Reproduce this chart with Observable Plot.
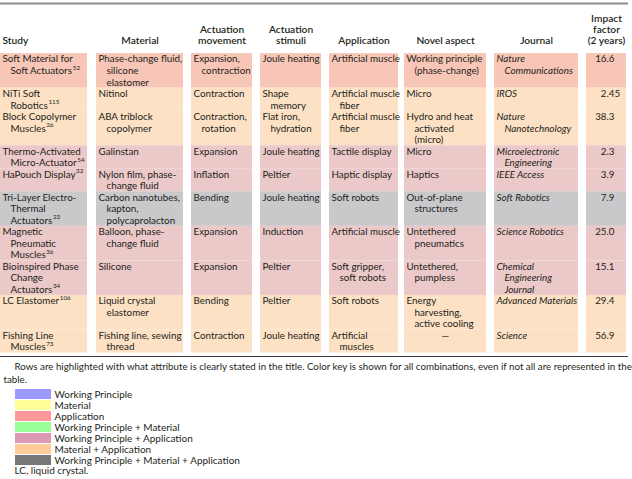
<!DOCTYPE html>
<html><head><meta charset="utf-8">
<script src="https://cdn.jsdelivr.net/npm/d3@7"></script>
<script src="https://cdn.jsdelivr.net/npm/@observablehq/plot@0.6"></script>
<style>
html,body{margin:0;padding:0;background:#fff;}
#chart svg{display:block;}
</style></head><body><div id="chart"></div>
<script>
// ---------- data ----------
const headers = ["Study", "Material", "Actuation\nmovement", "Actuation\nstimuli", "Application", "Novel aspect", "Journal", "Impact\nfactor\n(2 years)"];
const studies = [
  "Soft Material for\nSoft Actuators", "NiTi Soft\nRobotics", "Block Copolymer\nMuscles",
  "Thermo-Activated\nMicro-Actuator", "HaPouch Display", "Tri-Layer Electro-\nThermal\nActuators",
  "Magnetic\nPneumatic\nMuscles", "Bioinspired Phase\nChange\nActuators", "LC Elastomer", "Fishing Line\nMuscles"
];
const refs = ["52", "115", "26", "54", "32", "23", "36", "34", "106", "73"];
const materials = [
  "Phase-change fluid,\nsilicone\nelastomer", "Nitinol", "ABA triblock\ncopolymer", "Galinstan",
  "Nylon film, phase-\nchange fluid", "Carbon nanotubes,\nkapton,\npolycaprolacton", "Balloon, phase-\nchange fluid",
  "Silicone", "Liquid crystal\nelastomer", "Fishing line, sewing\nthread"
];
const movements = [
  "Expansion,\ncontraction", "Contraction", "Contraction,\nrotation", "Expansion", "Inflation",
  "Bending", "Expansion", "Expansion", "Bending", "Contraction"
];
const stimuli = [
  "Joule heating", "Shape\nmemory", "Flat iron,\nhydration", "Joule heating", "Peltier",
  "Joule heating", "Induction", "Peltier", "Peltier", "Joule heating"
];
const applications = [
  "Artificial muscle", "Artificial muscle\nfiber", "Artificial muscle\nfiber", "Tactile display", "Haptic display",
  "Soft robots", "Artificial muscle", "Soft gripper,\nsoft robots", "Soft robots", "Artificial\nmuscles"
];
const novelAspects = [
  "Working principle\n(phase-change)", "Micro", "Hydro and heat\nactivated\n(micro)", "Micro", "Haptics",
  "Out-of-plane\nstructures", "Untethered\npneumatics", "Untethered,\npumpless", "Energy\nharvesting,\nactive cooling", "—"
];
const journals = [
  "Nature\nCommunications", "IROS", "Nature\nNanotechnology", "Microelectronic\nEngineering", "IEEE Access",
  "Soft Robotics", "Science Robotics", "Chemical\nEngineering\nJournal", "Advanced Materials", "Science"
];
const impactFactors = ["16.6", "2.45", "38.3", "2.3", "3.9", "7.9", "25.0", "15.1", "29.4", "56.9"];
const rowKeys = [
  "Application", "Material + Application", "Material + Application",
  "Working Principle + Application", "Working Principle + Application",
  "Working Principle + Material + Application",
  "Working Principle + Application", "Working Principle + Application",
  "Material + Application", "Material + Application"
];
const legendKeys = [
  "Working Principle", "Material", "Application", "Working Principle + Material",
  "Working Principle + Application", "Material + Application", "Working Principle + Material + Application"
];
const captionLines = [
  "Rows are highlighted with what attribute is clearly stated in the title. Color key is shown for all combinations, even if not all are represented in the",
  "table."
];
const footnote = "LC, liquid crystal.";

// ---------- styles / layout ----------
const legendColors = ["#9999ff", "#ffff99", "#ff9999", "#99ff99", "#dd99b3", "#ffcc99", "#777777"];
const tintColors   = ["#ccccff", "#ffffcc", "#f8c6b6", "#ccffcc", "#ecc9c9", "#fde1c5", "#c9c9cb"];
const colEdges = [[0, 87], [96, 183], [191, 252], [260, 321], [329, 398], [404, 486], [494, 578], [586, 626]];
const FONT = "Lato, 'DejaVu Sans', sans-serif";
const FS = 9.8, HFS = 10.2, FFS = 10, CFS = 9.75, PAD = 2, INDENT = 8, DEC_X = 606;
const INK = "#231f20";

const ctx = document.createElement("canvas").getContext("2d");
ctx.font = `${FS}px Lato`;
const measure = (s) => ctx.measureText(s).width;

const textColumns = [studies, materials, movements, stimuli, applications, novelAspects, journals];
const rowLines = studies.map((_, r) => Math.max(...textColumns.map(col => col[r].split("\n").length)));
const rowTop = [];
rowLines.reduce((acc, n, r) => (rowTop[r] = acc, acc + n), 0);
const totalLines = d3.sum(rowLines);
const yTop = -4.35, yBottom = totalLines + 0.3;

const cells = [];
rowKeys.forEach((key, r) => colEdges.forEach(([x1, x2]) =>
  cells.push({x1, x2, y1: rowTop[r], y2: rowTop[r] + rowLines[r], key})));

const bodyLines = [];
textColumns.forEach((col, c) => col.forEach((txt, r) => txt.split("\n").forEach((t, i) => {
  const [l, rg] = colEdges[c];
  const centered = t === "—";
  bodyLines.push({c, r, i, text: t, centered,
    x: centered ? (l + rg) / 2 : l + PAD + (i ? INDENT : 0),
    y: rowTop[r] + i + 0.5});
})));

const refMarks = studies.map((s, r) => {
  const lines = s.split("\n");
  const last = lines[lines.length - 1];
  const x0 = colEdges[0][0] + PAD + (lines.length > 1 ? INDENT : 0);
  return {text: refs[r], x: x0 + measure(last) + 0.6, y: rowTop[r] + lines.length - 1 + 0.5};
});

const headerLines = [];
headers.forEach((h, c) => {
  const ls = h.split("\n");
  ls.forEach((t, k) => headerLines.push({
    text: t, c,
    x: c === 0 ? colEdges[0][0] + PAD : (colEdges[c][0] + colEdges[c][1]) / 2,
    y: -1.13 - (ls.length - 1 - k) * 0.97
  }));
});

const impact = impactFactors.map((v, r) => {
  const [a, b] = v.split(".");
  return {int: a, frac: "." + b, x: DEC_X, y: rowTop[r] + 0.5};
});

const textOpts = {fontSize: FS, fill: INK, lineAnchor: "middle"};
const headOpts = {fontSize: HFS, fill: INK, lineAnchor: "middle", fontWeight: 600};

const table = Plot.plot({
  width: 632, height: 360, margin: 0,
  style: {fontFamily: FONT, background: "white"},
  x: {domain: [0, 632], range: [0, 632], axis: null},
  y: {domain: [yTop, yBottom], range: [3, 356], axis: null},
  color: {domain: legendKeys, range: tintColors},
  marks: [
    Plot.rect(cells, {x1: "x1", x2: "x2", y1: "y1", y2: "y2", fill: "key"}),
    Plot.ruleY([yTop], {x1: 0, x2: 628, stroke: "#8c8c8c", strokeWidth: 2}),
    Plot.ruleY([yBottom], {x1: 0, x2: 628, stroke: "#3a3a3a", strokeWidth: 1}),
    Plot.text(headerLines.filter(d => d.c === 0), {...headOpts, x: "x", y: "y", text: "text", textAnchor: "start"}),
    Plot.text(headerLines.filter(d => d.c !== 0), {...headOpts, x: "x", y: "y", text: "text", textAnchor: "middle"}),
    Plot.text(bodyLines.filter(d => d.c !== 6 && !d.centered), {...textOpts, x: "x", y: "y", text: "text", textAnchor: "start"}),
    Plot.text(bodyLines.filter(d => d.centered), {...textOpts, x: "x", y: "y", text: "text", textAnchor: "middle"}),
    Plot.text(bodyLines.filter(d => d.c === 6), {...textOpts, x: "x", y: "y", text: "text", textAnchor: "start", fontStyle: "italic"}),
    Plot.text(refMarks, {x: "x", y: "y", text: "text", fontSize: 6.3, fill: INK, textAnchor: "start", dy: -3.3}),
    Plot.text(impact, {...textOpts, x: "x", y: "y", text: "int", textAnchor: "end"}),
    Plot.text(impact, {...textOpts, x: "x", y: "y", text: "frac", textAnchor: "start"})
  ]
});

const footer = Plot.plot({
  width: 632, height: 119, margin: 0,
  style: {fontFamily: FONT, background: "white"},
  x: {domain: [0, 632], range: [0, 632], axis: null},
  y: {type: "band", domain: legendKeys, range: [28, 106], paddingInner: 0.08, paddingOuter: 0, axis: null},
  color: {domain: legendKeys, range: legendColors},
  marks: [
    Plot.barX(legendKeys, {x1: 15, x2: 51, y: d => d, fill: d => d}),
    Plot.text(legendKeys, {x: 54, y: d => d, text: d => d, textAnchor: "start", fontSize: FFS, fill: INK}),
    Plot.text([captionLines[0]], {frameAnchor: "top-left", text: d => d, dx: 14, dy: 6.5, fontSize: CFS, fill: INK, textAnchor: "start", lineAnchor: "middle"}),
    Plot.text([captionLines[1]], {frameAnchor: "top-left", text: d => d, dx: 3, dy: 19, fontSize: CFS, fill: INK, textAnchor: "start", lineAnchor: "middle"}),
    Plot.text([footnote], {frameAnchor: "top-left", text: d => d, dx: 14, dy: 110, fontSize: FFS, fill: INK, textAnchor: "start", lineAnchor: "middle"})
  ]
});

document.getElementById("chart").append(table, footer);
</script></body></html>
